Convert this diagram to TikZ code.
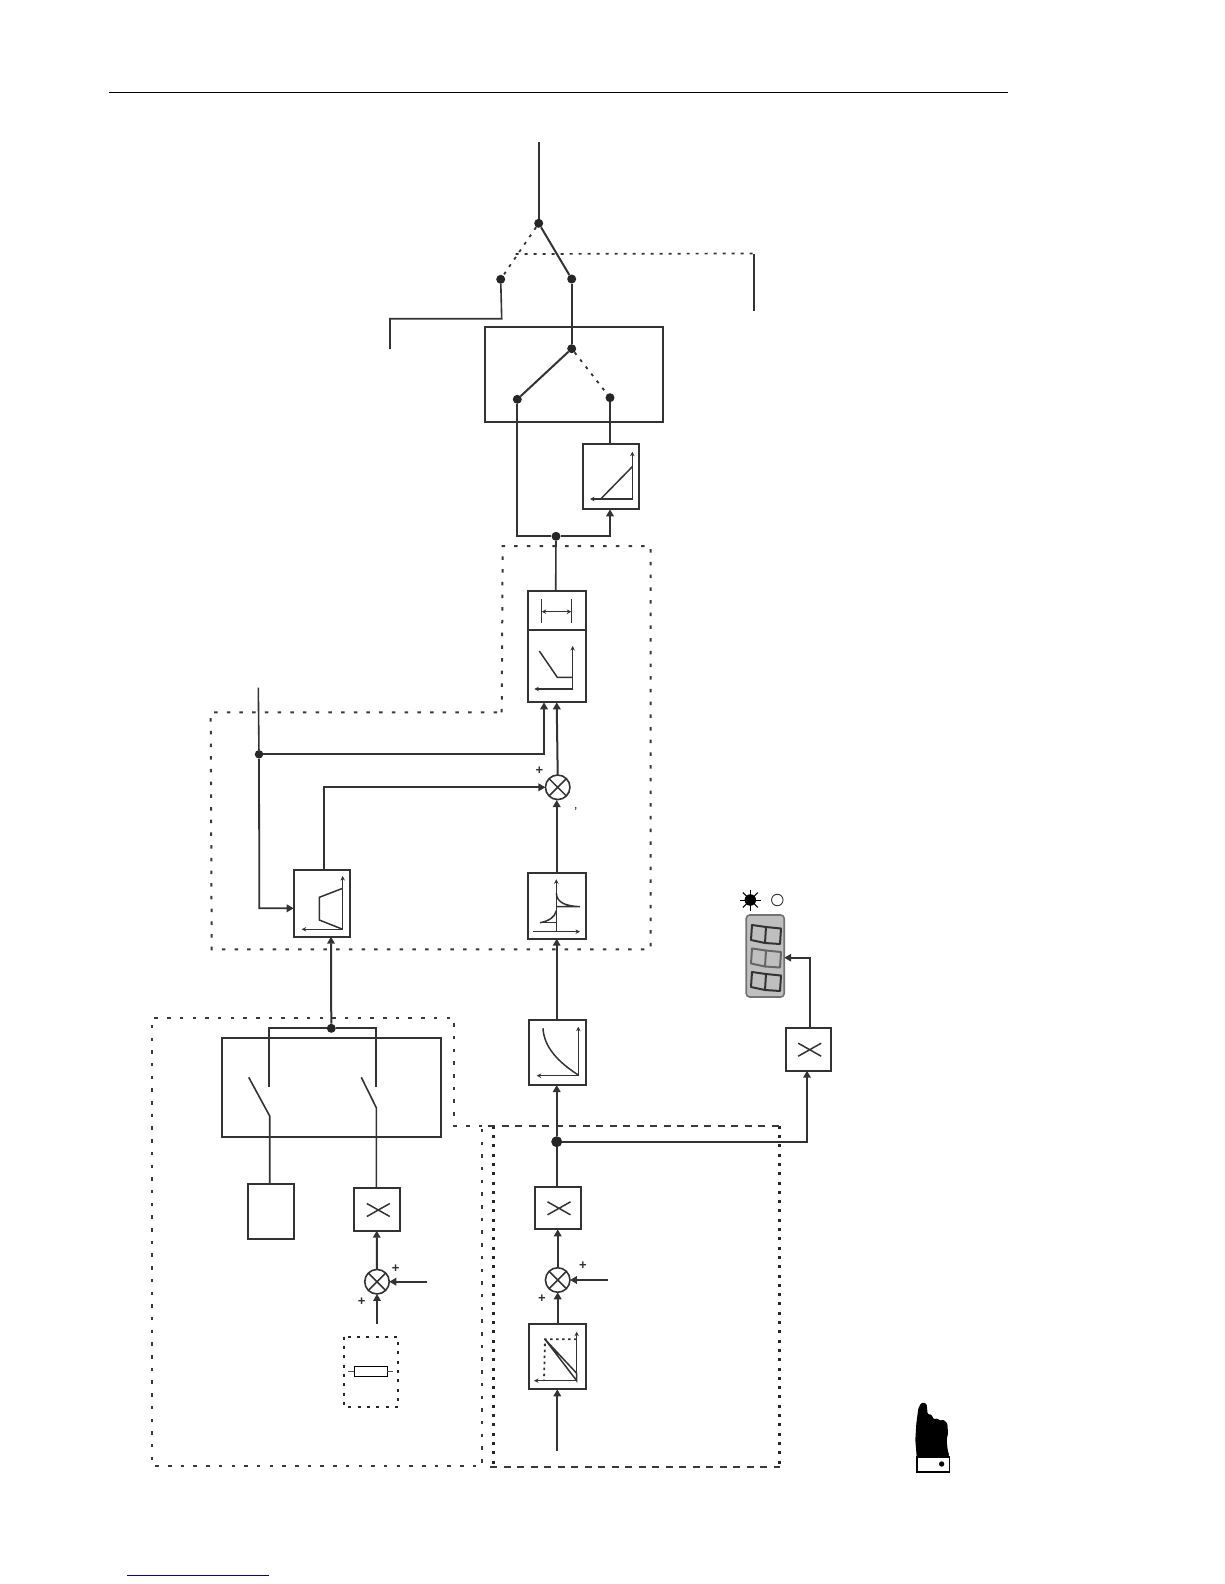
\documentclass[tikz,border=0pt]{standalone}
\usepackage{fontspec}
\setmainfont{Liberation Sans}
\usetikzlibrary{arrows.meta}
\definecolor{ink}{HTML}{333333}
\definecolor{dots}{HTML}{3a3a3a}
\tikzset{
  x=1pt,y=-1pt,
  wire/.style={draw=ink,line width=2pt,line cap=butt},
  thin wire/.style={draw=ink,line width=1.6pt},
  arrowed/.style={wire,-{Triangle[length=7pt,width=7.5pt]}},
  box/.style={draw=ink,line width=1.7pt,fill=white,inner sep=0pt,outer sep=0pt},
  icon/.style={draw=ink,line width=1.5pt},
  axis/.style={draw=ink,line width=1.4pt,{Stealth[length=4.5pt,width=4.5pt]}-{Stealth[length=4.5pt,width=4.5pt]}},
  region/.style={draw=dots,line width=2pt,dash pattern=on 3.5pt off 9.2pt},
  regiond/.style={draw=dots,line width=2pt,dash pattern=on 7pt off 6.5pt},
  regionf/.style={draw=black!85,line width=2.6pt,dash pattern=on 3pt off 6.3pt},
  sw/.style={draw=ink,line width=1.8pt,dash pattern=on 3pt off 6pt},
  jdot/.style={circle,fill=black!85,inner sep=0pt,minimum size=9pt},
  sumc/.style={circle,draw=ink,line width=1.6pt,fill=white,minimum size=24.5pt,inner sep=0pt,outer sep=0pt},
  sgn/.style={font=\bfseries\fontsize{13}{13}\selectfont,text=ink,inner sep=0pt}
}
% box given by corners
\newcommand{\bx}[5]{\node[box,minimum width=#4pt-#2pt,minimum height=#5pt-#3pt,anchor=north west] (#1) at (#2,#3) {};}
\newcommand{\xmark}[3]{\draw[icon] (#2-11.5,#3-6.5) -- (#2+11.5,#3+6.5) (#2-11.5,#3+6.5) -- (#2+11.5,#3-6.5);\coordinate (#1) at (#2,#3);}
\newcommand{\sumnode}[3]{\node[sumc] (#1) at (#2,#3) {};
 \draw[icon] (#1.45) -- (#1.225) (#1.135) -- (#1.315);}
\begin{document}
\begin{tikzpicture}
\useasboundingbox (0,0) rectangle (1224,1584);
\fill[white] (0,0) rectangle (1224,1584);
% header rule and footer
\draw[black,line width=1.4pt] (109,92.6) -- (1008,92.6);
\draw[blue!70!black,line width=1.1pt] (127,1575.2) -- (269,1575.2);

% dashed regions
\draw[region] (501.7,712.3) -- (502.7,546) -- (650.7,546) -- (650.7,949.3) -- (211.7,949.3) -- (210.7,712.3) -- cycle;
\draw[region] (482.3,1125.7) -- (454.3,1125.7) -- (454.3,1018.3) -- (151.7,1018.3) -- (151.7,1465.7) -- (482.3,1465.7) -- cycle;
\draw[regionf] (493.3,1125.7) -- (493.3,1466.7);
\draw[regionf] (779.7,1125.7) -- (779.7,1466.7);
\draw[regiond] (488,1125.7) -- (779.7,1125.7);
\draw[regiond] (490,1466.7) -- (779.7,1466.7);
\draw[regionf,line width=2.2pt] (344,1336.7) rectangle (398.3,1406.7);

% top change-over
\node[jdot] (ja) at (538.7,223.3) {};
\node[jdot] (jl) at (500.7,279.3) {};
\node[jdot] (jr) at (571.7,279) {};
\coordinate (ttop) at (538.7,142);
\coordinate (lf) at (390,349);
\coordinate (lc) at (501.7,318.7);
\coordinate (lk) at (390,318.7);
\draw[wire] (ttop) -- (ja);
\draw[wire] (ja) -- (jr);
\draw[sw] (ja) -- (jl);
\coordinate (dd1) at (515.7,254);
\coordinate (dd2) at (754,253.5);
\coordinate (dd3) at (754,311);
\draw[sw,line width=1.7pt] (dd1) -- (dd2);
\draw[thin wire] (dd2) -- (dd3);
\draw[thin wire] (jl) -- (lc) -- (lk) -- (lf);

% mode box
\bx{mode}{485}{326.7}{662.7}{422.3}
\node[jdot] (jm) at (571.7,348.7) {};
\node[jdot] (jml) at (517.3,399.3) {};
\node[jdot] (jmr) at (610,397.7) {};
\draw[wire] (jr) -- (jm);
\draw[wire] (jm) -- (jml);
\draw[sw] (jm) -- (jmr);

% ramp box
\bx{ramp}{583.3}{444}{639.3}{509.3}
\draw[thin wire] (jmr) -- (610,444);
\draw[axis] (590,499) -- (632.3,499) -- (632.3,451.7);
\draw[icon] (600.7,499) -- (632.3,466.7);

\node[jdot] (jb) at (556,536.3) {};
\draw[wire] (jml) -- (517.3,536.3) -- (jb);
\draw[arrowed] (jb) -- (610,536.3) -- (610,509.3);

% limiter / speed boxes
\bx{lim}{528.3}{590.7}{585.7}{630}
\bx{tor}{528.3}{630}{585.7}{702.3}
\draw[thin wire] (jb) -- (555.7,590.7);
\draw[icon] (541.7,599.3) -- (541.7,623.3) (571.3,599.3) -- (571.3,623.3);
\draw[axis] (541.7,611.7) -- (571.3,611.7);
\draw[axis] (534.3,689) -- (572.7,689) -- (572.7,646);
\draw[icon] (539.3,651) -- (557.3,677.3) -- (572.7,677.3);

% speed reference
\coordinate (stop) at (258.3,687.7);
\node[jdot,minimum size=8.5pt] (js) at (259,754.3) {};
\sumnode{sa}{557.7}{787.3}
\bx{trap}{293.7}{870.3}{350}{936.7}
\bx{hyp}{528.3}{873}{585.7}{938.7}
\draw[thin wire] (stop) -- (js);
\draw[arrowed,line width=1.8pt] (js) -- (259.3,908.3) -- (trap.west |- 0,908.3);
\draw[arrowed,line width=2.3pt] (js) -- (544,754.3) -- (544,702.3);
\draw[arrowed] (sa.north) -- (556.7,702.3);
\draw[arrowed,line width=1.8pt] (324,870.3) -- (324,787.3) -- (sa.west);
\draw[arrowed] (hyp.north -| 556.7,0) -- (556.7,800);
\node[sgn] (pa) at (539.3,770.3) {+};
\node[sgn,font=\bfseries\fontsize{10}{10}\selectfont] (ma) at (575.7,811) {'};
\draw[axis] (301.7,929.3) -- (342.7,929.3) -- (342.7,876);
\draw[icon] (342.7,888.3) -- (319.3,897.3) -- (319.3,920) -- (342.7,929.3);
\draw[axis,{Stealth[length=4.5pt,width=4.5pt]}-] (580,931.7) -- (532.7,931.7);
\draw[axis,-{Stealth[length=4.5pt,width=4.5pt]}] (556.3,931.7) -- (556.3,879.3);
\draw[icon] (556.3,893.3) .. controls (557,903) and (566,906) .. (580,906.7) -- (556.3,906.7);
\draw[icon] (540,922.7) .. controls (549,921) and (555,917) .. (556.3,910.7);
\draw[icon] (540,922.7) -- (556.3,922.7);

% curve box
\bx{curv}{528.7}{1019.7}{585.7}{1085}
\draw[arrowed] (curv.north -| 556.7,0) -- (556.7,938.7);
\draw[axis] (536.7,1075.7) -- (578.3,1075.7) -- (578.3,1026.7);
\draw[icon] (543,1028.3) .. controls (544,1047) and (558,1062) .. (578.3,1075);

% junction and display path
\node[jdot,minimum size=11pt] (jc) at (556.7,1141.7) {};
\draw[arrowed] (jc) -- (556.7,1085);
\bx{xb}{786.3}{1028.3}{831}{1070.7}
\xmark{xbm}{809.7}{1049.7}
\draw[arrowed] (jc) -- (807,1141.7) -- (807,1070.7);

% display
\node[draw=black!55,line width=1.6pt,fill=black!25,rounded corners=3.5pt,minimum width=38pt,minimum height=82pt,inner sep=0pt,outer sep=0pt] (disp) at (765.2,956) {};
\draw[arrowed] (809.7,1028.3) -- (809.7,957.7) -- (disp.east |- 0,957.7);
\foreach \yy/\cc in {925/80,948.5/60,972/80}{
  \begin{scope}[shift={(751,\yy)}]
    \draw[black!\cc,line width=2pt,line join=round] (1,0) -- (0,15) -- (14,18) -- (15,2) -- cycle;
    \draw[black!\cc,line width=2pt,line join=round] (15,2) -- (30,3.5) -- (29,19) -- (14,18);
  \end{scope}
}
\node[circle,fill=black,minimum size=11.5pt,inner sep=0pt] (sun) at (750.3,900) {};
\foreach \aa in {0,45,...,315}{\draw[black,line width=1pt] (750.3,900) ++(\aa:5) -- ++(\aa:5.5);}
\node[circle,draw=black!80,line width=0.9pt,fill=white,minimum size=11.5pt,inner sep=0pt] (off) at (777.3,900) {};

% lower right chain
\bx{xc}{535}{1186.7}{580.7}{1229.3}
\xmark{xcm}{559}{1208.3}
\draw[wire] (jc) -- (556.7,1186.7);
\sumnode{sc}{557.7}{1280}
\draw[arrowed] (sc.north) -- (557.7,1229.3);
\coordinate (scin) at (607.7,1280);
\draw[arrowed] (scin) -- (sc.east);
\node[sgn] (pc1) at (583,1266) {+};
\node[sgn] (pc2) at (542,1298.3) {+};
\bx{lin}{528.7}{1324}{585.7}{1389.3}
\draw[arrowed] (557.7,1324) -- (sc.south);
\coordinate (linin) at (557.3,1450.7);
\draw[arrowed] (linin) -- (557.3,1389.3);
\draw[axis] (534,1380.7) -- (576.7,1380.7) -- (576.7,1331.7);
\draw[icon] (545,1339.3) -- (576.7,1380.7) -- (576.7,1373.3) -- cycle;
\draw[black!80,line width=1.8pt,dash pattern=on 2.5pt off 3.5pt] (576.7,1339.3) -- (545,1339.3) -- (544,1380.7);

% field selector
\node[jdot] (jf) at (331.3,1028.3) {};
\bx{sel}{221.7}{1038.3}{441.3}{1137.3}
\bx{fa}{248.3}{1184.3}{294}{1238.7}
\bx{xa}{354.3}{1188.3}{400}{1230.7}
\xmark{xam}{378.3}{1210}
\draw[{Triangle[length=7pt,width=7.5pt]}-,wire] (trap.south -| 331,0) -- (jf);
\draw[wire,line width=1.8pt] (269.3,1086.7) -- (269.3,1028.3) -- (jf) -- (376.3,1028.3) -- (376.3,1086.7);
\draw[wire,line width=1.6pt] (248.7,1077.3) -- (269.7,1116) -- (269.7,1184.3);
\draw[wire,line width=1.6pt] (361.3,1077.3) -- (376.3,1107.7) -- (376.3,1188.3);
\sumnode{sb}{377}{1281.7}
\draw[arrowed] (sb.north) -- (376.7,1230.7);
\coordinate (sbin) at (427.3,1281.7);
\coordinate (sbin2) at (377,1324);
\draw[arrowed] (sbin) -- (sb.east);
\draw[arrowed] (sbin2) -- (sb.south);
\node[sgn] (pb1) at (395.7,1268.7) {+};
\node[sgn] (pb2) at (361.7,1301.3) {+};
% resistor
\node[draw=black,line width=1pt,fill=white,minimum width=33pt,minimum height=10.5pt,inner sep=0pt,outer sep=0pt] (res) at (370.5,1371.3) {};
\draw[black!70,line width=0.7pt] (348.3,1371.3) -- (res.west) (res.east) -- (393.3,1371.3);

% hand
\begin{scope}[shift={(890,1390)},x=0.3333pt,y=-0.3333pt]
 \fill[black,rounded corners=1pt] (80,200) -- (76,150) -- (79,100) -- (85,55) -- (92,41) -- (101,37) -- (110,43) -- (113,72) -- (124,74) -- (132,88) -- (142,85) -- (150,92) -- (160,89) -- (172,100) -- (174,130) -- (170,150) -- (173,180) -- (178,198) -- cycle;
 \draw[black,line width=1.6pt,fill=white] (81,201) rectangle (178,246);
 \fill[black] (155,222) circle (8);
\end{scope}
\end{tikzpicture}
\end{document}
